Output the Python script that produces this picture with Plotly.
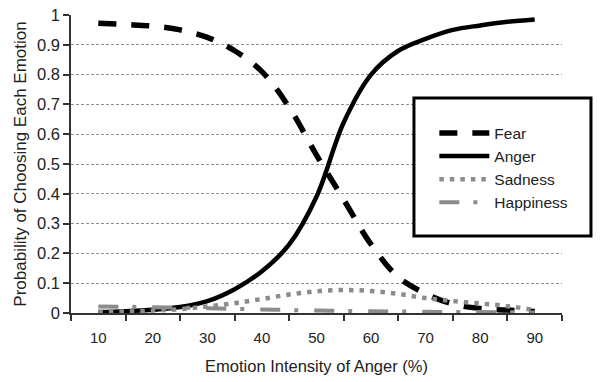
import plotly.graph_objects as go

intensity = [10, 15, 20, 25, 30, 35, 40, 45, 50, 55, 60, 65, 70, 75, 80, 85, 90]
fear = [0.972, 0.968, 0.963, 0.950, 0.925, 0.880, 0.810, 0.690, 0.530, 0.380, 0.230, 0.120, 0.065, 0.030, 0.015, 0.010, 0.005]
anger = [0.003, 0.006, 0.011, 0.020, 0.040, 0.080, 0.140, 0.230, 0.390, 0.640, 0.800, 0.880, 0.920, 0.950, 0.965, 0.977, 0.985]
sadness = [0.003, 0.005, 0.008, 0.013, 0.022, 0.033, 0.047, 0.062, 0.073, 0.077, 0.074, 0.064, 0.050, 0.040, 0.032, 0.023, 0.010]
happiness = [0.022, 0.021, 0.019, 0.018, 0.016, 0.014, 0.012, 0.010, 0.008, 0.007, 0.006, 0.005, 0.004, 0.0035, 0.003, 0.0025, 0.002]

x_ticks = [10, 20, 30, 40, 50, 60, 70, 80, 90]
x_bounds = [5, 15, 25, 35, 45, 55, 65, 75, 85, 95]
y_ticks = [0, 0.1, 0.2, 0.3, 0.4, 0.5, 0.6, 0.7, 0.8, 0.9, 1]
y_labels = ["0", "0.1", "0.2", "0.3", "0.4", "0.5", "0.6", "0.7", "0.8", "0.9", "1"]

FONT = "Arial, Liberation Sans, sans-serif"
GRAY = "#8c8c8c"

fig = go.Figure()
fig.add_trace(go.Scatter(x=intensity, y=fear, name="Fear", mode="lines",
                         line=dict(color="black", width=5.5, dash="18px,15px", shape="spline")))
fig.add_trace(go.Scatter(x=intensity, y=anger, name="Anger", mode="lines",
                         line=dict(color="black", width=4.5, shape="spline")))
fig.add_trace(go.Scatter(x=intensity, y=sadness, name="Sadness", mode="lines",
                         line=dict(color=GRAY, width=4.5, dash="4.5px,6px", shape="spline")))
fig.add_trace(go.Scatter(x=intensity, y=happiness, name="Happiness", mode="lines",
                         line=dict(color=GRAY, width=4, dash="20px,14px,4px,16px", shape="spline")))

fig.update_layout(
    width=603, height=382,
    margin=dict(l=71, r=41, t=15, b=69),
    paper_bgcolor="white", plot_bgcolor="white",
    font=dict(family=FONT, size=15, color="#222"),
    showlegend=True,
    legend=dict(x=0.74, y=0.66, xanchor="left", yanchor="top",
                bgcolor="rgba(0,0,0,0)", borderwidth=0,
                font=dict(size=15.5, color="#222"), itemwidth=50,
                tracegroupgap=0),
    shapes=[dict(type="rect", xref="paper", yref="paper",
                 x0=0.6985, x1=1.059, y0=0.258, y1=0.7215,
                 line=dict(color="black", width=3), fillcolor="white", layer="above")],
)

fig.update_xaxes(
    automargin=False, ticklabeloverflow="allow",
    range=[5, 95], tickvals=x_ticks, ticktext=[str(v) for v in x_ticks],
    ticks="", showgrid=False, zeroline=False,
    showline=True, linecolor="#333", linewidth=1.5,
    tickfont=dict(size=15),
    ticklabelstandoff=10,
    minor=dict(tickvals=x_bounds, ticks="outside", ticklen=6, tickcolor="#333", tickwidth=1.5, showgrid=False),
    title=dict(text="Emotion Intensity of Anger (%)", standoff=16, font=dict(size=16.5)),
)
fig.update_yaxes(
    automargin=False, ticklabeloverflow="allow",
    range=[0, 1], tickvals=y_ticks, ticktext=y_labels,
    ticks="outside", ticklen=6, tickcolor="#333", tickwidth=1.5,
    tickfont=dict(size=16.5),
    showgrid=True, gridcolor="#909090", gridwidth=1, griddash="3px,2px",
    zeroline=False, showline=True, linecolor="#333", linewidth=1.5,
    title=dict(text="Probability of Choosing Each Emotion", standoff=6, font=dict(size=17)),
)

fig.write_html("out.html", config={"displayModeBar": False},
               post_script="document.body.style.margin='0';")
